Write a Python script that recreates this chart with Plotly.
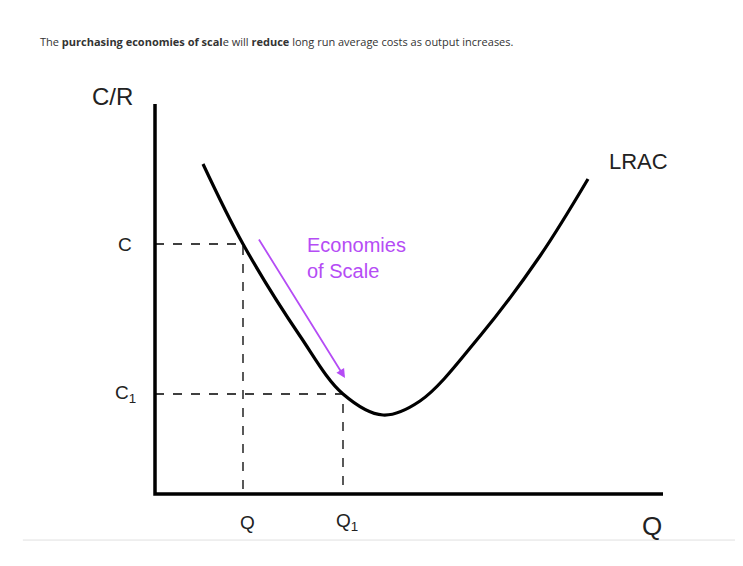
import plotly.graph_objects as go

# LRAC curve (output, cost)
lrac_q = [48, 88, 145, 188, 228, 265, 325, 385, 433]
lrac_c = [330, 250, 158, 100, 79, 93, 158, 238, 315]
c_levels = [250, 100]
q_levels = [88, 188]
c_labels = ["C", "C<sub>1</sub>"]
q_labels = ["Q", "Q<sub>1</sub>"]

fig = go.Figure()
fig.add_trace(go.Scatter(x=lrac_q, y=lrac_c, mode="lines", line=dict(color="black", width=3.2, shape="spline", smoothing=1.0), hoverinfo="skip"))
for q, c in zip(q_levels, c_levels):
    fig.add_trace(go.Scatter(x=[0, q, q], y=[c, c, 0], mode="lines", line=dict(color="black", width=1.3, dash="dash"), hoverinfo="skip"))
# axes
fig.add_trace(go.Scatter(x=[0, 0, 508], y=[390, 0, 0], mode="lines", line=dict(color="black", width=3.5), hoverinfo="skip"))
# bottom separator line
fig.add_shape(type="line", xref="paper", yref="paper", x0=0.02, x1=0.99, y0=0.06, y1=0.06, line=dict(color="#e0e0e0", width=1))

ann = []
font = dict(family="Liberation Sans, Arial", color="#222")
for c, t in zip(c_levels, c_labels):
    ann.append(dict(x=-30, y=c, text=t, showarrow=False, font=dict(size=19, **font)))
for q, t in zip(q_levels, q_labels):
    ann.append(dict(x=q + 4, y=-28, text=t, showarrow=False, font=dict(size=19, **font)))
ann += [
    dict(x=-43, y=398, text="C/R", showarrow=False, font=dict(size=24, **font)),
    dict(x=483, y=333, text="LRAC", showarrow=False, font=dict(size=22, **font)),
    dict(x=497, y=-32, text="Q", showarrow=False, font=dict(size=26, **font)),
    dict(x=150, y=236, text="Economies<br>of Scale", align="left", xanchor="left", showarrow=False,
         font=dict(size=20, family="Liberation Sans, Arial", color="#b54cf5")),
    dict(x=190, y=116, ax=103, ay=256, axref="x", ayref="y", text="", showarrow=True,
         arrowhead=2, arrowsize=1, arrowwidth=1.8, arrowcolor="#b54cf5"),
    dict(x=-117, y=453, xanchor="left", showarrow=False,
         text="The <b>purchasing economies of scal</b>e will <b>reduce</b> long run average costs as output increases.",
         font=dict(size=11, family="Open Sans", color="#333")),
]
fig.update_layout(
    width=743, height=566, margin=dict(l=0, r=0, t=0, b=0),
    paper_bgcolor="white", plot_bgcolor="white", showlegend=False,
    xaxis=dict(range=[-147, 596], visible=False, fixedrange=True),
    yaxis=dict(range=[-80, 486], visible=False, fixedrange=True),
    annotations=ann,
)
fig.write_html("out.html")
